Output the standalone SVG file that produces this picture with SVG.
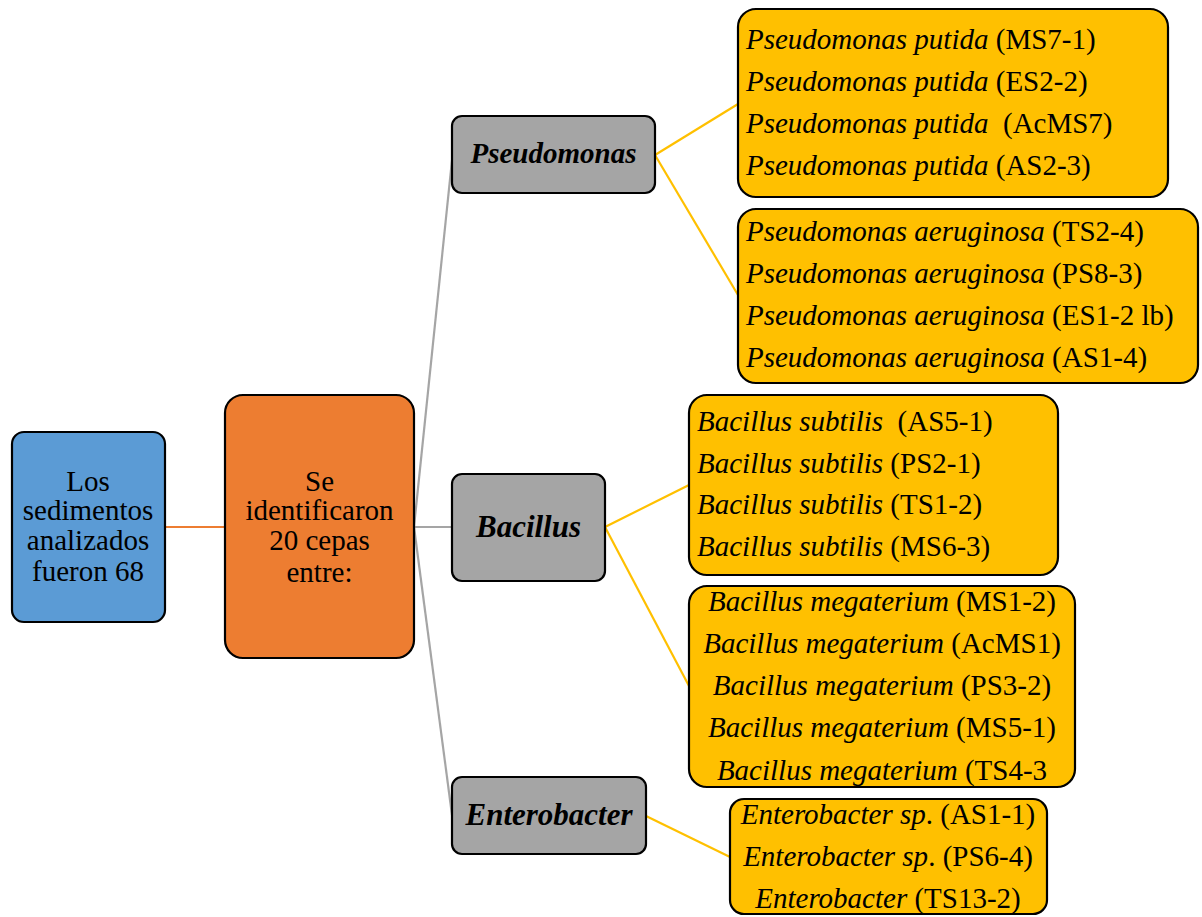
<svg xmlns="http://www.w3.org/2000/svg" width="1202" height="917" viewBox="0 0 1202 917" font-family="'Liberation Serif', 'DejaVu Serif', serif">
<style>
.box{stroke:#000;stroke-width:2.2}
.blue{fill:#5B9BD5}.orange{fill:#ED7D31}.gray{fill:#A5A5A5}.gold{fill:#FFC000}
text{font-family:'Liberation Serif', serif;font-size:29px;fill:#000}
.c{text-anchor:middle}
.bi{font-style:italic;font-weight:bold}
.i{font-style:italic}
.lg{stroke:#A5A5A5;stroke-width:2.2;fill:none}
.ly{stroke:#FFC000;stroke-width:2.2;fill:none}
.lo{stroke:#ED7D31;stroke-width:2.2;fill:none}
</style>
<g id="connectors">
<line class="lo" x1="165" y1="527" x2="225" y2="527"/>
<line class="lg" x1="414" y1="527" x2="452" y2="160"/>
<line class="lg" x1="414" y1="527" x2="452" y2="527"/>
<line class="lg" x1="414" y1="527" x2="452" y2="815"/>
<line class="ly" x1="655" y1="155" x2="738" y2="104"/>
<line class="ly" x1="655" y1="155" x2="738" y2="295"/>
<line class="ly" x1="605" y1="527" x2="689" y2="485"/>
<line class="ly" x1="605" y1="527" x2="689" y2="686"/>
<line class="ly" x1="646" y1="816" x2="730" y2="857"/>
</g>
<g id="root">
<rect class="box blue" x="12" y="432" width="153" height="190" rx="12"/>
<text class="c" x="88" y="491">Los</text>
<text class="c" x="88" y="520">sedimentos</text>
<text class="c" x="88" y="550">analizados</text>
<text class="c" x="88" y="581">fueron 68</text>
</g>
<g id="mid">
<rect class="box orange" x="225" y="395" width="189" height="263" rx="18"/>
<text class="c" x="319.5" y="491">Se</text>
<text class="c" x="319.5" y="520">identificaron</text>
<text class="c" x="319.5" y="550">20 cepas</text>
<text class="c" x="319.5" y="582">entre:</text>
</g>
<g id="pseudomonas">
<rect class="box gray" x="452" y="116" width="203" height="77" rx="10"/>
<text class="c bi" x="553.5" y="163">Pseudomonas</text>
</g>
<g id="bacillus">
<rect class="box gray" x="452" y="474" width="153" height="107" rx="10"/>
<text class="c bi" x="528.5" y="537" style="font-size:31px">Bacillus</text>
</g>
<g id="enterobacter">
<rect class="box gray" x="452" y="777" width="194" height="77" rx="10"/>
<text class="c bi" x="549" y="825" style="font-size:31px">Enterobacter</text>
</g>
<g id="putida">
<rect class="box gold" x="738" y="9" width="430" height="188" rx="18"/>
<text x="746" y="49"><tspan class="i">Pseudomonas putida</tspan> (MS7-1)</text>
<text x="746" y="91"><tspan class="i">Pseudomonas putida</tspan> (ES2-2)</text>
<text x="746" y="133" xml:space="preserve"><tspan class="i">Pseudomonas putida</tspan>  (AcMS7)</text>
<text x="746" y="175"><tspan class="i">Pseudomonas putida</tspan> (AS2-3)</text>
</g>
<g id="aeruginosa">
<rect class="box gold" x="738" y="209" width="460" height="174" rx="18"/>
<text x="746" y="241"><tspan class="i">Pseudomonas aeruginosa</tspan> (TS2-4)</text>
<text x="746" y="283"><tspan class="i">Pseudomonas aeruginosa</tspan> (PS8-3)</text>
<text x="746" y="325"><tspan class="i">Pseudomonas aeruginosa</tspan> (ES1-2 lb)</text>
<text x="746" y="367"><tspan class="i">Pseudomonas aeruginosa</tspan> (AS1-4)</text>
</g>
<g id="subtilis">
<rect class="box gold" x="689" y="395" width="369" height="180" rx="18"/>
<text x="697" y="431" xml:space="preserve"><tspan class="i">Bacillus subtilis</tspan>  (AS5-1)</text>
<text x="697" y="473"><tspan class="i">Bacillus subtilis</tspan> (PS2-1)</text>
<text x="697" y="514"><tspan class="i">Bacillus subtilis</tspan> (TS1-2)</text>
<text x="697" y="556"><tspan class="i">Bacillus subtilis</tspan> (MS6-3)</text>
</g>
<g id="megaterium">
<rect class="box gold" x="689" y="586" width="386" height="201" rx="18"/>
<text class="c" x="882" y="611"><tspan class="i">Bacillus megaterium</tspan> (MS1-2)</text>
<text class="c" x="882" y="653"><tspan class="i">Bacillus megaterium</tspan> (AcMS1)</text>
<text class="c" x="882" y="695"><tspan class="i">Bacillus megaterium</tspan> (PS3-2)</text>
<text class="c" x="882" y="737"><tspan class="i">Bacillus megaterium</tspan> (MS5-1)</text>
<text class="c" x="882" y="780"><tspan class="i">Bacillus megaterium</tspan> (TS4-3</text>
</g>
<g id="enterobacter-sp">
<rect class="box gold" x="730" y="799" width="317" height="115" rx="14"/>
<text class="c" x="888" y="824"><tspan class="i">Enterobacter sp</tspan>. (AS1-1)</text>
<text class="c" x="888" y="866"><tspan class="i">Enterobacter sp</tspan>. (PS6-4)</text>
<text class="c" x="888" y="908"><tspan class="i">Enterobacter</tspan> (TS13-2)</text>
</g>
</svg>
